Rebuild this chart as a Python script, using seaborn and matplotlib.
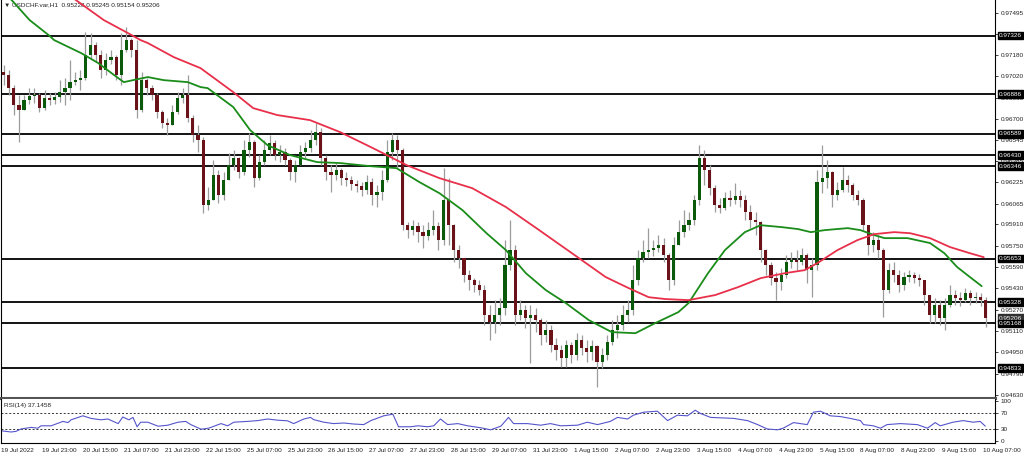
import numpy as np
import pandas as pd
import seaborn as sns
import matplotlib.pyplot as plt
from matplotlib.transforms import blended_transform_factory

first_open = 0.97052
close = [
    0.97030, 0.96932, 0.96804, 0.96767, 0.96842, 0.96872, 0.96880, 0.96782, 0.96857, 0.96842,
    0.96864, 0.96902, 0.96932, 0.96977, 0.96992, 0.97007, 0.97180, 0.97254, 0.97180, 0.97067,
    0.97142, 0.97164, 0.97030, 0.97217, 0.97292, 0.97217, 0.96767, 0.96992, 0.96932, 0.96880,
    0.96752, 0.96670, 0.96654, 0.96752, 0.96857, 0.96880, 0.96707, 0.96580, 0.96542, 0.96054,
    0.96092, 0.96280, 0.96130, 0.96242, 0.96354, 0.96407, 0.96302, 0.96467, 0.96527, 0.96257,
    0.96377, 0.96467, 0.96520, 0.96430, 0.96452, 0.96392, 0.96302, 0.96354, 0.96452, 0.96482,
    0.96542, 0.96602, 0.96407, 0.96302, 0.96280, 0.96317, 0.96257, 0.96242, 0.96212, 0.96197,
    0.96167, 0.96227, 0.96130, 0.96152, 0.96242, 0.96452, 0.96542, 0.96467, 0.95904, 0.95867,
    0.95897, 0.95852, 0.95822, 0.95867, 0.95897, 0.95792, 0.96092, 0.95904, 0.95717, 0.95657,
    0.95530, 0.95492, 0.95454, 0.95417, 0.95230, 0.95177, 0.95230, 0.95282, 0.95604, 0.95717,
    0.95230, 0.95267, 0.95207, 0.95230, 0.95192, 0.95080, 0.95117, 0.95004, 0.94967, 0.94907,
    0.95004, 0.94930, 0.95042, 0.94982, 0.94952, 0.94997, 0.94877, 0.94930, 0.95027, 0.95117,
    0.95154, 0.95230, 0.95267, 0.95492, 0.95657, 0.95702, 0.95717, 0.95732, 0.95754, 0.95680,
    0.95492, 0.95754, 0.95852, 0.95904, 0.95942, 0.96092, 0.96407, 0.96317, 0.96182, 0.96054,
    0.96032, 0.96107, 0.96092, 0.96122, 0.96092, 0.96002, 0.95942, 0.95927, 0.95717, 0.95604,
    0.95507, 0.95477, 0.95530, 0.95627, 0.95642, 0.95627, 0.95680, 0.95567, 0.95604, 0.96227,
    0.96257, 0.96302, 0.96130, 0.96167, 0.96242, 0.96204, 0.96130, 0.96092, 0.95904, 0.95754,
    0.95792, 0.95717, 0.95417, 0.95567, 0.95530, 0.95454, 0.95514, 0.95530, 0.95507, 0.95492,
    0.95380, 0.95230, 0.95304, 0.95207, 0.95304, 0.95380, 0.95357, 0.95342, 0.95394, 0.95357,
    0.95364, 0.95342, 0.95206,
]
high = [
    0.97104, 0.97067, 0.96954, 0.96880, 0.96880, 0.96932, 0.96932, 0.96894, 0.96917, 0.96894,
    0.96902, 0.96992, 0.97007, 0.97142, 0.97052, 0.97067, 0.97352, 0.97344, 0.97277, 0.97217,
    0.97194, 0.97217, 0.97180, 0.97344, 0.97390, 0.97307, 0.97292, 0.97052, 0.97007, 0.96954,
    0.96894, 0.96767, 0.96707, 0.96804, 0.96902, 0.96932, 0.97030, 0.96730, 0.96654, 0.96564,
    0.96190, 0.96392, 0.96317, 0.96302, 0.96444, 0.96467, 0.96415, 0.96542, 0.96594, 0.96542,
    0.96430, 0.96542, 0.96580, 0.96542, 0.96504, 0.96482, 0.96407, 0.96392, 0.96504, 0.96527,
    0.96617, 0.96670, 0.96632, 0.96430, 0.96354, 0.96370, 0.96332, 0.96302, 0.96272, 0.96242,
    0.96227, 0.96280, 0.96257, 0.96204, 0.96317, 0.96542, 0.96594, 0.96580, 0.96482, 0.95927,
    0.95942, 0.95927, 0.95904, 0.95927, 0.96017, 0.95927, 0.96332, 0.96257, 0.95910, 0.95754,
    0.95657, 0.95567, 0.95507, 0.95492, 0.95454, 0.95304, 0.95342, 0.95357, 0.95792, 0.95942,
    0.95754, 0.95342, 0.95304, 0.95304, 0.95282, 0.95207, 0.95192, 0.95154, 0.95057, 0.95004,
    0.95042, 0.95027, 0.95094, 0.95080, 0.95042, 0.95042, 0.95004, 0.94982, 0.95080, 0.95192,
    0.95230, 0.95304, 0.95342, 0.95604, 0.95717, 0.95792, 0.95882, 0.95792, 0.95830, 0.95807,
    0.95695, 0.95814, 0.95942, 0.96017, 0.96002, 0.96130, 0.96504, 0.96467, 0.96354, 0.96204,
    0.96107, 0.96152, 0.96167, 0.96220, 0.96167, 0.96130, 0.96054, 0.96002, 0.95935, 0.95725,
    0.95627, 0.95552, 0.95582, 0.95680, 0.95702, 0.95717, 0.95732, 0.95694, 0.95657, 0.96317,
    0.96504, 0.96392, 0.96310, 0.96227, 0.96340, 0.96280, 0.96220, 0.96167, 0.96107, 0.95904,
    0.95852, 0.95830, 0.95732, 0.95620, 0.95627, 0.95567, 0.95552, 0.95567, 0.95552, 0.95537,
    0.95492, 0.95380, 0.95357, 0.95342, 0.95357, 0.95454, 0.95417, 0.95402, 0.95432, 0.95417,
    0.95402, 0.95394, 0.95364,
]
low = [
    0.96954, 0.96880, 0.96730, 0.96527, 0.96767, 0.96812, 0.96820, 0.96752, 0.96767, 0.96804,
    0.96812, 0.96827, 0.96804, 0.96842, 0.96954, 0.96917, 0.96992, 0.97157, 0.97127, 0.97007,
    0.97030, 0.97112, 0.96992, 0.96954, 0.97202, 0.97164, 0.96707, 0.96752, 0.96880, 0.96842,
    0.96707, 0.96632, 0.96580, 0.96654, 0.96740, 0.96820, 0.96677, 0.96527, 0.96452, 0.95994,
    0.96017, 0.96092, 0.96070, 0.96092, 0.96242, 0.96317, 0.96257, 0.96280, 0.96414, 0.96190,
    0.96240, 0.96354, 0.96430, 0.96392, 0.96377, 0.96354, 0.96242, 0.96227, 0.96354, 0.96407,
    0.96452, 0.96504, 0.96354, 0.96242, 0.96152, 0.96242, 0.96204, 0.96197, 0.96167, 0.96152,
    0.96122, 0.96137, 0.96054, 0.96040, 0.96092, 0.96227, 0.96392, 0.96332, 0.95867, 0.95807,
    0.95830, 0.95777, 0.95732, 0.95792, 0.95830, 0.95717, 0.95754, 0.95754, 0.95627, 0.95582,
    0.95477, 0.95417, 0.95402, 0.95380, 0.95154, 0.95042, 0.95094, 0.95154, 0.95230, 0.95567,
    0.95154, 0.95192, 0.95132, 0.94870, 0.95102, 0.95004, 0.95027, 0.94952, 0.94892, 0.94840,
    0.94840, 0.94870, 0.94892, 0.94930, 0.94877, 0.94892, 0.94690, 0.94832, 0.94892, 0.95004,
    0.95057, 0.95117, 0.95177, 0.95230, 0.95454, 0.95627, 0.95657, 0.95672, 0.95702, 0.95627,
    0.95417, 0.95454, 0.95754, 0.95814, 0.95867, 0.95904, 0.96054, 0.96204, 0.96130, 0.96002,
    0.95994, 0.96017, 0.96047, 0.96062, 0.96040, 0.95942, 0.95882, 0.95830, 0.95627, 0.95530,
    0.95454, 0.95342, 0.95417, 0.95507, 0.95582, 0.95567, 0.95604, 0.95470, 0.95364, 0.95567,
    0.96144, 0.96182, 0.96040, 0.96092, 0.96150, 0.96152, 0.96092, 0.96054, 0.95867, 0.95680,
    0.95702, 0.95657, 0.95214, 0.95394, 0.95477, 0.95402, 0.95417, 0.95477, 0.95470, 0.95447,
    0.95304, 0.95170, 0.95170, 0.95154, 0.95117, 0.95290, 0.95304, 0.95297, 0.95327, 0.95304,
    0.95320, 0.95297, 0.95140,
]

# moving averages, sampled along the lines (x in candle index)
green_idx = [0, 5.1, 8.8, 9.9, 15.2, 18.5, 21.6, 23.5, 26.3, 28.2, 31.3, 36, 38.5, 39.9, 44.9,
             48.2, 51.6, 56, 61.3, 65.8, 71.6, 76.8, 81.3, 85.2, 89.7, 94.4, 98.2, 102.1, 106,
             109.9, 114.4, 118.9, 123.5, 127.4, 131.9, 133.9, 137.7, 141, 144.9, 148, 152, 155.3,
             157.8, 160.5, 165, 167.5, 170.2, 172.2, 176.7, 181.1, 183.9, 186.4, 188.9, 191.2]
green_val = [0.9766, 0.97442, 0.97330, 0.97292, 0.97194, 0.97120, 0.97030, 0.96977, 0.97000,
             0.97015, 0.96992, 0.96977, 0.96940, 0.96932, 0.96790, 0.96617, 0.96504, 0.96430,
             0.96377, 0.96370, 0.96347, 0.96332, 0.96227, 0.96144, 0.96017, 0.95844, 0.95717,
             0.95544, 0.95417, 0.95320, 0.95192, 0.95102, 0.95094, 0.95170, 0.95252, 0.95320,
             0.95544, 0.95717, 0.95852, 0.95904, 0.95890, 0.95875, 0.95852, 0.95867, 0.95882,
             0.95867, 0.95830, 0.95807, 0.95807, 0.95770, 0.95694, 0.95590, 0.95515, 0.95447]
red_idx = [13.5, 19.6, 24.3, 26.8, 28.2, 33.3, 38.5, 44.9, 48.8, 53.5, 59.9, 65.8, 72.2, 78.8,
           85.2, 91.6, 98.2, 104.7, 111.1, 117.7, 122.2, 126.1, 129.4, 133.9, 139.1, 143.6, 148,
           152.7, 156.6, 159.1, 163, 166.9, 170.2, 174.1, 177.2, 181.1, 185, 188.9, 191.6]
red_val = [0.9761, 0.97442, 0.97345, 0.97292, 0.97270, 0.97164, 0.97082, 0.96902, 0.96782,
           0.96730, 0.96692, 0.96602, 0.96482, 0.96354, 0.96257, 0.96182, 0.96040, 0.95867,
           0.95694, 0.95515, 0.95432, 0.95364, 0.95350, 0.95342, 0.95380, 0.95440, 0.95507,
           0.95544, 0.95567, 0.95620, 0.95717, 0.95792, 0.95837, 0.95852, 0.95844, 0.95807,
           0.95740, 0.95694, 0.95664]

# RSI(14)
rsi_idx = [-0.5, 1.45, 2.4, 3.4, 5.4, 6.7, 7.3, 9.3, 11.6, 12.6,
           13.2, 15.5, 17.1, 19.0, 20.4, 22.4, 23.3, 24.5, 25.3, 26.1,
           26.8, 28.2, 30.2, 32.1, 34.1, 35.6, 36.6, 38.6, 40.1, 42.5,
           43.8, 45.0, 47.7, 49.7, 51.6, 53.6, 55.5, 56.7, 58.7, 60.0,
           60.6, 62.6, 64.5, 66.5, 68.4, 70.4, 71.8, 74.3, 76.1, 77.2,
           79.6, 81.0, 82.9, 84.1, 85.4, 86.8, 88.8, 90.7, 93.3, 95.2,
           97.2, 98.7, 99.7, 102.4, 105.0, 106.9, 108.9, 112.2, 114.1, 116.1,
           118.6, 120.0, 122.0, 123.1, 125.1, 127.8, 129.8, 131.7, 133.7, 135.2,
           136.2, 138.2, 142.7, 145.4, 147.4, 149.3, 151.3, 152.4, 154.4, 157.1,
           158.3, 159.7, 161.6, 163.6, 165.5, 167.5, 168.1, 170.0, 171.4, 172.7,
           175.3, 178.6, 180.6, 182.1, 183.1, 185.6, 187.6, 189.5, 190.9, 191.9]
rsi_val = [25.6, 22.5, 24, 30, 34, 32, 38, 38, 49, 46,
           53, 63, 56.5, 53, 55, 43.5, 60, 53, 59, 35.6,
           47, 47, 37, 39.5, 47, 49, 41, 29.5, 32, 43.5,
           38, 47, 49, 51, 55, 52, 50.5, 43.5, 55, 59,
           53.5, 47, 43.5, 45, 42.5, 41, 51, 63, 67, 35.6,
           35.6, 38, 35.6, 38, 55, 41, 43.5, 38, 33, 28,
           37, 59, 43.5, 43.5, 39.5, 43.5, 38, 39.5, 47, 41,
           49, 59, 55, 64.5, 72, 74.5, 51, 64.5, 63, 77,
           69, 59, 56.5, 51, 41, 30, 28, 32, 46, 41,
           72, 74.5, 63, 61, 56.5, 51, 41, 38, 32, 41,
           43.5, 41, 32, 46, 38, 47, 51, 47, 49, 37.1]

levels = [0.97326, 0.96886, 0.96589, 0.96430, 0.96346, 0.95653, 0.95328, 0.95168, 0.94833]
price_ticks = [0.97495, 0.97340, 0.97180, 0.97020, 0.96860, 0.96700, 0.96545, 0.96385, 0.96225,
               0.96065, 0.95910, 0.95750, 0.95590, 0.95430, 0.95270, 0.95110, 0.94950, 0.94790,
               0.94630]
last_price = 0.95206
time_labels = ["19 Jul 2022", "19 Jul 23:00", "20 Jul 15:00", "21 Jul 07:00", "21 Jul 23:00",
               "22 Jul 15:00", "25 Jul 07:00", "25 Jul 23:00", "26 Jul 15:00", "27 Jul 07:00",
               "27 Jul 23:00", "28 Jul 15:00", "29 Jul 07:00", "31 Jul 23:00", "1 Aug 15:00",
               "2 Aug 07:00", "2 Aug 23:00", "3 Aug 15:00", "4 Aug 07:00", "4 Aug 23:00",
               "5 Aug 15:00", "8 Aug 07:00", "8 Aug 23:00", "9 Aug 15:00", "10 Aug 07:00"]

sns.set_style("white")
plt.rcParams["font.family"] = ["Liberation Sans", "DejaVu Sans"]
fs = 4.6

df = pd.DataFrame({"close": close, "high": high, "low": low})
df["open"] = df["close"].shift(1).fillna(first_open)
df["high"] = df[["high", "open", "close"]].max(axis=1)
df["low"] = df[["low", "open", "close"]].min(axis=1)
df["idx"] = np.arange(len(df))
df["bottom"] = df[["open", "close"]].min(axis=1)
df["body"] = (df["close"] - df["open"]).abs().clip(lower=0.00002)
df["color"] = np.where(df["close"] >= df["open"], "#0b5a0b", "#6b1218")

fig = plt.figure(figsize=(10.24, 4.53), dpi=100)
ax = fig.add_axes([0.001, 1 - 398 / 453, 995 / 1024 - 0.001, 398 / 453])
rax = fig.add_axes([0.001, 1 - 443 / 453, 995 / 1024 - 0.001, 44 / 453])

xlim = (-0.5, 193.8)

# price panel
for lv in levels:
    ax.axhline(lv, color="black", lw=1.3, zorder=1)
ax.vlines(df["idx"], df["low"], df["high"], color="#9c9c9c", lw=0.9, zorder=2)
ax.bar(df["idx"], df["body"], bottom=df["bottom"], width=0.62, color=df["color"],
       linewidth=0, zorder=3)
sns.lineplot(x=green_idx, y=green_val, ax=ax, color="#1a8c1a", lw=1.3, sort=False,
             estimator=None, zorder=4)
sns.lineplot(x=red_idx, y=red_val, ax=ax, color="#e8304a", lw=1.3, sort=False,
             estimator=None, zorder=4)

ax.set_xlim(*xlim)
ax.set_ylim(0.94608, 0.97593)
ax.set_xticks([])
ax.yaxis.tick_right()
ax.set_yticks(price_ticks)
ax.set_yticklabels([f"{v:.5f}" for v in price_ticks], fontsize=fs, color="#222222")
ax.tick_params(axis="y", length=2.5, width=0.6, pad=1.5, direction="out", colors="#222222")
for side in ["left", "right"]:
    ax.spines[side].set_color("black")
    ax.spines[side].set_linewidth(0.8)
ax.spines["top"].set_visible(False)
ax.spines["bottom"].set_color("#555555")
ax.spines["bottom"].set_linewidth(2.2)

trans = blended_transform_factory(ax.transAxes, ax.transData)
boxed = levels[:7] + [last_price, levels[7], levels[8]]
for v in boxed:
    fc = "#303030" if v == last_price else "black"
    ax.text(1.004, v, f"{v:.5f}", transform=trans, fontsize=fs, color="white", va="center",
            ha="left", clip_on=False, zorder=10,
            bbox=dict(boxstyle="square,pad=0.2", fc=fc, ec=fc))

ax.text(0.003, 0.994, "\u25bc USDCHF.var,H1  0.95228 0.95245 0.95154 0.95206",
        transform=ax.transAxes, fontsize=fs, va="top", ha="left", color="#222222")

# RSI panel
rax.axhline(70, color="#333333", lw=0.7, ls=(0, (2, 2)))
rax.axhline(30, color="#333333", lw=0.7, ls=(0, (2, 2)))
sns.lineplot(x=rsi_idx, y=rsi_val, ax=rax, color="#5555cc", lw=0.8, sort=False, estimator=None)
rax.set_xlim(*xlim)
rax.set_ylim(-5, 105)
rax.yaxis.tick_right()
rax.set_yticks([0, 30, 70, 100])
rax.set_yticklabels(["0", "30", "70", "100"], fontsize=fs, color="#222222")
rax.tick_params(axis="y", length=2.5, width=0.6, pad=1.5, colors="#222222")
rax.set_xticks([8 * k - 0.5 for k in range(len(time_labels))])
rax.set_xticklabels(time_labels, fontsize=fs, color="#222222", ha="left")
rax.tick_params(axis="x", length=2.5, width=0.6, pad=1.0, colors="#222222")
for side in ["left", "right", "bottom"]:
    rax.spines[side].set_color("black")
    rax.spines[side].set_linewidth(0.8)
rax.spines["top"].set_visible(False)
rax.text(0.003, 0.9, "RSI(14) 37.1458", transform=rax.transAxes, fontsize=fs, va="top",
         ha="left", color="#222222")

fig.savefig("out.png", dpi=100)
